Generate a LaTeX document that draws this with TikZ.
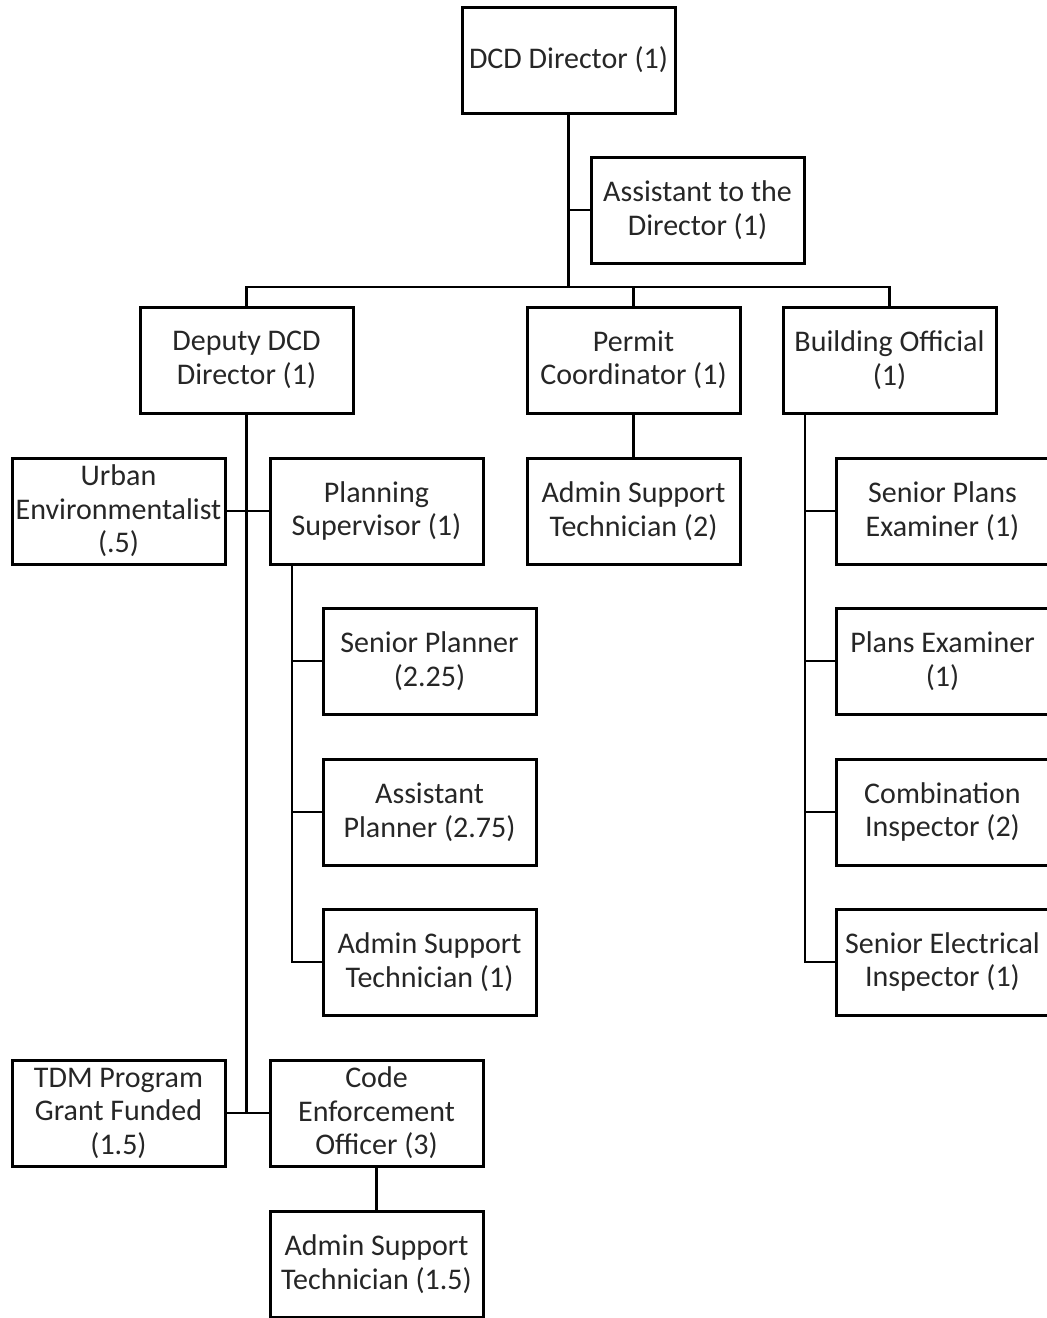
\documentclass[tikz,border=0pt]{standalone}
\usepackage{fontspec}
\setmainfont{Carlito}
\usetikzlibrary{positioning}

\begin{document}
\begin{tikzpicture}[
    node distance=22pt,
    post/.style={draw, line width=1.5pt, minimum width=106.5pt, minimum height=53pt,
        inner xsep=0pt, inner ysep=2pt, outer sep=0pt, align=center, text=black!85,
        font=\fontsize{15}{16.75}\selectfont},
    link/.style={line width=1.2pt}
]
    \useasboundingbox (0,0) rectangle (523pt,-659pt);

    % top
    \node[post] (dir) at (284.25pt,-30pt) {DCD Director (1)};
    \node[post, below=of dir, xshift=64.5pt] (asst) {Assistant to the\\Director (1)};

    % second row
    \node[post, below=of asst, xshift=-32pt] (permit) {Permit\\Coordinator (1)};
    \node[post, left=87pt of permit] (deputy) {Deputy DCD\\Director (1)};
    \node[post, right=21.5pt of permit] (bldg) {Building Official\\(1)};

    % third row
    \node[post, below=22.5pt of permit] (admin2) {Admin Support\\Technician (2)};
    \node[post, left=of admin2] (plansup) {Planning\\Supervisor (1)};
    \node[post, left=22.5pt of plansup] (urban) {Urban\\Environmentalist\\(.5)};
    \node[post, right=48pt of admin2] (senplans) {Senior Plans\\Examiner (1)};

    % planning
    \node[post, below=of plansup, xshift=26.5pt] (senplanner) {Senior Planner\\(2.25)};
    \node[post, below=22.5pt of senplanner] (asstplanner) {Assistant\\Planner (2.75)};
    \node[post, below=of asstplanner] (admin1) {Admin Support\\Technician (1)};

    % building
    \node[post, below=of senplans] (plansex) {Plans Examiner\\(1)};
    \node[post, below=22.5pt of plansex] (combo) {Combination\\Inspector (2)};
    \node[post, below=of combo] (elec) {Senior Electrical\\Inspector (1)};

    % code enforcement
    \node[post, below=22.5pt of admin1, xshift=-26.5pt] (code) {Code\\Enforcement\\Officer (3)};
    \node[post, left=22.5pt of code] (tdm) {TDM Program\\Grant Funded\\(1.5)};
    \node[post, below=22.5pt of code] (admin15) {Admin Support\\Technician (1.5)};

    \coordinate[below=12pt of asst] (bus);
    \coordinate[right=11pt of plansup.south west] (pstem);
    \coordinate[right=11pt of bldg.south west] (bstem);

    \draw[link] (dir.south) -- (dir.south |- bus);
    \draw[link] (dir.south |- asst.west) -- (asst.west);
    \draw[link] (deputy.north) |- (bus) -| (bldg.north);
    \draw[link] (permit.north) -- (permit.north |- bus);
    \draw[link] (permit) -- (admin2);

    \draw[link] (deputy.south) |- (code.west);
    \draw[link] (urban) -- (plansup);
    \draw[link] (tdm) -- (code);
    \draw[link] (code) -- (admin15);

    \draw[link] (pstem) |- (admin1.west);
    \foreach \n in {senplanner, asstplanner}
        \draw[link] (pstem |- \n.west) -- (\n.west);

    \draw[link] (bstem) |- (elec.west);
    \foreach \n in {senplans, plansex, combo}
        \draw[link] (bstem |- \n.west) -- (\n.west);
\end{tikzpicture}
\end{document}
